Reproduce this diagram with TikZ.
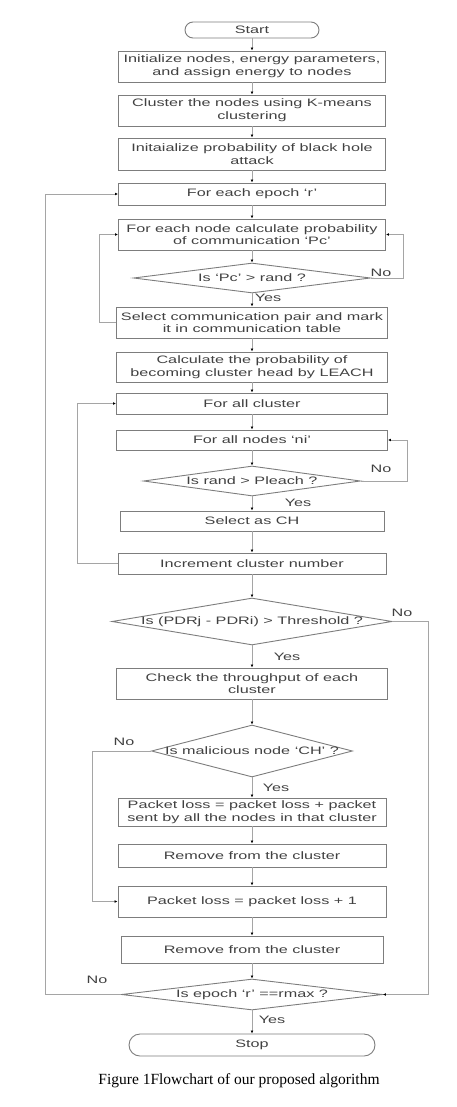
\documentclass[tikz,border=0pt]{standalone}
\usepackage{fontspec}
\usetikzlibrary{shapes.geometric,arrows.meta}
\newfontfamily\fcfont{Liberation Sans}[FakeStretch=1.5]
\newfontfamily\capfont{Liberation Serif}
\definecolor{textc}{RGB}{65,65,65}
\definecolor{boxc}{RGB}{125,125,125}
\definecolor{linec}{RGB}{165,165,165}
\newcommand{\fcsize}{\fcfont\fontsize{10.8}{12.7}\selectfont}
\begin{document}
\begin{tikzpicture}[x=1pt,y=-1pt,
  box/.style={draw=boxc, line width=0.9pt, rectangle, inner sep=0pt, align=center, text=textc, font=\fcsize},
  term/.style={box, rounded corners=8pt},
  dia/.style={draw=boxc, line width=0.9pt, diamond, aspect=1, inner sep=0pt, text=textc, font=\fcsize},
  conn/.style={draw=linec, line width=0.8pt, -{Latex[length=3pt,width=2.8pt,color=black]}},
  lab/.style={text=textc, font=\fcsize, inner sep=0pt}
]
\useasboundingbox (0,0) rectangle (457,1107);

\node[term, minimum width=134pt, minimum height=16pt] (start) at (252,30) {Start};
\node[box, minimum width=267pt, minimum height=31pt] (init) at (252,66.5) {Initialize nodes, energy parameters,\\ and assign energy to nodes};
\node[box, minimum width=267pt, minimum height=31pt] (clus) at (252,110.5) {Cluster the nodes using K-means\\ clustering};
\node[box, minimum width=267pt, minimum height=32pt] (iprob) at (252,154) {Initaialize probability of black hole\\ attack};
\node[box, minimum width=267pt, minimum height=22pt] (epoch) at (252,194) {For each epoch ‘r’};
\node[box, minimum width=267pt, minimum height=31pt] (pc) at (252,234.5) {For each node calculate probability\\ of communication ‘Pc’};
\node[dia, minimum width=237pt, minimum height=30pt] (d1) at (252,278) {\makebox[0pt]{Is ‘Pc’ > rand ?}};
\node[box, minimum width=271pt, minimum height=31pt] (sel) at (252,322.5) {Select communication pair and mark\\ it in communication table};
\node[box, minimum width=271pt, minimum height=30pt] (calc) at (252,367) {Calculate the probability of\\ becoming cluster head by LEACH};
\node[box, minimum width=271pt, minimum height=21pt] (fac) at (252,403.5) {For all cluster};
\node[box, minimum width=271pt, minimum height=20pt] (fan) at (252,440) {For all nodes ‘ni’};
\node[dia, minimum width=217pt, minimum height=30pt] (d2) at (252,481) {\makebox[0pt]{Is rand > Pleach ?}};
\node[box, minimum width=264pt, minimum height=20pt] (ch) at (252,521) {Select as CH};
\node[box, minimum width=268pt, minimum height=21pt] (inc) at (252,563.5) {Increment cluster number};
\node[dia, minimum width=280pt, minimum height=47pt] (d3) at (252,621.5) {\makebox[0pt]{Is (PDRj - PDRi) > Threshold ?}};
\node[box, minimum width=271pt, minimum height=31pt] (thr) at (252,683.5) {Check the throughput of each\\ cluster};
\node[dia, minimum width=201pt, minimum height=52pt] (d4) at (252,751) {\makebox[0pt]{Is malicious node ‘CH’ ?}};
\node[box, minimum width=268pt, minimum height=28pt] (pl) at (252,812) {Packet loss = packet loss + packet\\ sent by all the nodes in that cluster};
\node[box, minimum width=268pt, minimum height=23pt] (rem1) at (252,855.5) {Remove from the cluster};
\node[box, minimum width=268pt, minimum height=31pt] (pl1) at (252,901.5) {Packet loss = packet loss + 1};
\node[box, minimum width=262pt, minimum height=27pt] (rem2) at (252,949.5) {Remove from the cluster};
\node[dia, minimum width=261pt, minimum height=31pt] (d5) at (252,994.5) {\makebox[0pt]{Is epoch ‘r’ ==rmax ?}};
\node[term, minimum width=246pt, minimum height=22pt, rounded corners=11pt] (stop) at (252,1045) {Stop};

\node[font=\capfont\fontsize{15.5}{18}\selectfont, inner sep=0pt] (cap) at (239,1081) {Figure 1Flowchart of our proposed algorithm};

% straight connectors
\draw[conn] (start) -- (init);
\draw[conn] (init) -- (clus);
\draw[conn] (clus) -- (iprob);
\draw[conn] (iprob) -- (epoch);
\draw[conn] (epoch) -- (pc);
\draw[conn] (pc) -- (d1);
\draw[conn] (d1) -- (sel);
\draw[conn] (sel) -- (calc);
\draw[conn] (calc) -- (fac);
\draw[conn] (fac) -- (fan);
\draw[conn] (fan) -- (d2);
\draw[conn] (d2) -- (ch);
\draw[conn] (ch) -- (inc);
\draw[conn] (inc) -- (d3);
\draw[conn] (d3) -- (thr);
\draw[conn] (thr) -- (d4);
\draw[conn] (d4) -- (pl);
\draw[conn] (pl) -- (rem1);
\draw[conn] (rem1) -- (pl1);
\draw[conn] (pl1) -- (rem2);
\draw[conn] (rem2) -- (d5);
\draw[conn] (d5) -- (stop);

% loop columns
\coordinate (xr1) at (403,0);
\coordinate (xl1) at (99,0);
\coordinate (xo) at (45,0);
\coordinate (xr2) at (407,0);
\coordinate (xl2) at (77,0);
\coordinate (xr3) at (428,0);
\coordinate (xl3) at (92,0);

\draw[conn] (d1.east) -- (d1.east -| xr1) |- (pc.east);
\draw[conn] (sel.west) -- (sel.west -| xl1) |- (pc.west);
\draw[conn] (d5.west) -- (d5.west -| xo) |- (epoch.west);
\draw[conn] (d2.east) -- (d2.east -| xr2) |- (fan.east);
\draw[conn] (inc.west) -- (inc.west -| xl2) |- (fac.west);
\draw[conn] (d3.east) -- (d3.east -| xr3) |- (d5.east);
\draw[conn] (d4.west) -- (d4.west -| xl3) |- (pl1.west);

% labels
\node[lab] (y1) at (268,298) {Yes};
\node[lab] (n1) at (381,273) {No};
\node[lab] (y2) at (298,503) {Yes};
\node[lab] (n2) at (381,469) {No};
\node[lab] (y3) at (287,657) {Yes};
\node[lab] (n3) at (402,613) {No};
\node[lab] (y4) at (276,788) {Yes};
\node[lab] (n4) at (124,742) {No};
\node[lab] (y5) at (272,1020) {Yes};
\node[lab] (n5) at (97,980) {No};
\end{tikzpicture}
\end{document}
